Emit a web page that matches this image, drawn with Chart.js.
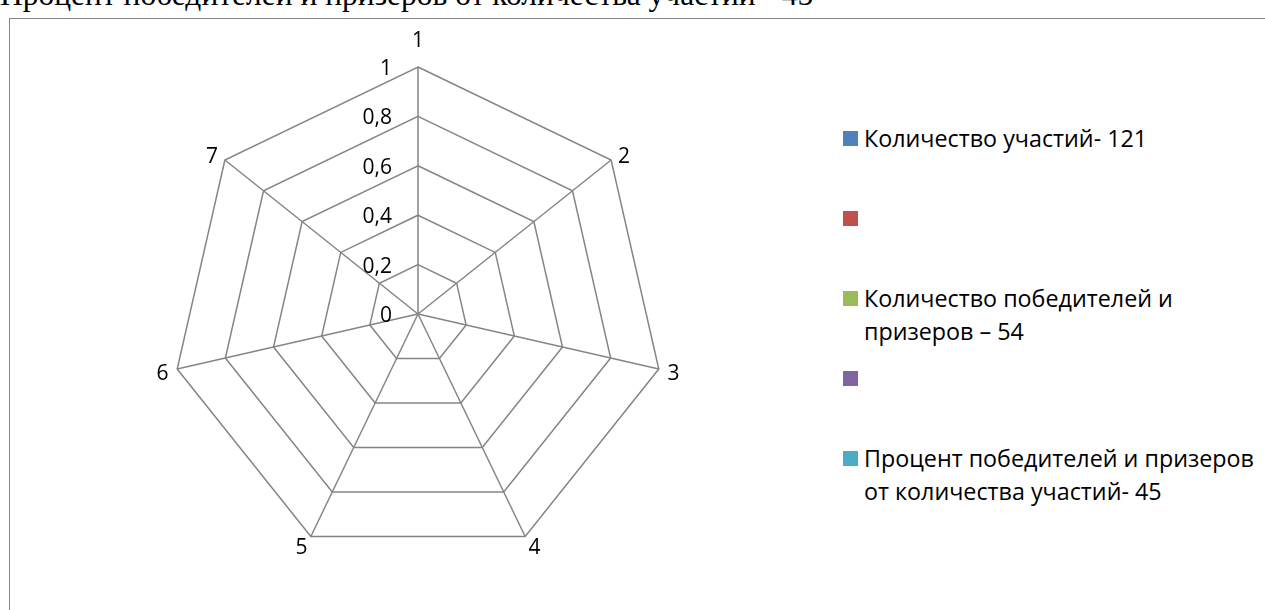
<!DOCTYPE html>
<html lang="ru">
<head>
<meta charset="utf-8">
<script src="https://cdn.jsdelivr.net/npm/chart.js@4"></script>
<style>
  body { margin: 0; width: 1265px; height: 610px; overflow: hidden; background: #fff; position: relative; font-family: "Open Sans", sans-serif; }
  #title { position: absolute; left: 0; top: -21px; font-family: "Liberation Serif", serif; font-size: 31.5px; line-height: 31px; white-space: nowrap; color: #000; }
  #frame { position: absolute; left: 9px; top: 18px; width: 1300px; height: 700px; border: 1px solid #868686; box-sizing: border-box; }
  #radar-box { position: absolute; left: 118px; top: 14px; width: 600px; height: 600px; }
  #legend { position: absolute; left: 843px; top: 0; }
  .item { position: absolute; left: 0; display: flex; align-items: flex-start; }
  .swatch { width: 15px; height: 15px; margin-top: 9px; flex: none; }
  .text { margin-left: 6px; width: 400px; font-size: 23.3px; line-height: 33px; color: #000; }
</style>
</head>
<body>
<div id="title">Процент победителей и призеров от количества участий - 45</div>
<div id="frame"></div>
<div id="radar-box"><canvas id="chart-radar"></canvas></div>
<div id="legend"></div>
<script>
// axes and series (all values empty / zero in the source chart)
const axisLabels = ["1", "2", "3", "4", "5", "6", "7"];
const seriesNames = [
  "Количество участий- 121",
  "",
  "Количество победителей и призеров – 54",
  "",
  "Процент победителей и призеров от количества участий- 45",
];
const seriesColors = ["#4f81bd", "#c0504d", "#9bbb59", "#8064a2", "#4bacc6"];
const seriesValues = [
  [0, 0, 0, 0, 0, 0, 0],
  [0, 0, 0, 0, 0, 0, 0],
  [0, 0, 0, 0, 0, 0, 0],
  [0, 0, 0, 0, 0, 0, 0],
  [0, 0, 0, 0, 0, 0, 0],
];
const scaleMin = 0;
const scaleMax = 1;
const scaleStep = 0.2;

const gridColor = "#858585";
const labelFont = '21px "Open Sans"';

// Excel-style labels: ticks right-aligned left of the vertical axis,
// category labels centred beside each spoke end
const excelLabels = {
  id: "excelLabels",
  afterDraw(chart) {
    const r = chart.scales.r;
    const ctx = chart.ctx;
    ctx.save();
    ctx.font = labelFont;
    ctx.fillStyle = "#000";
    ctx.textBaseline = "middle";

    ctx.textAlign = "right";
    r.ticks.forEach(t => {
      const y = r.yCenter - r.getDistanceFromCenterForValue(t.value);
      ctx.fillText(t.label, r.xCenter - 26, y + 2);
    });

    ctx.textAlign = "center";
    chart.data.labels.forEach((lbl, i) => {
      const p = r.getPointPosition(i, r.drawingArea);
      const dx = (p.x - r.xCenter) / r.drawingArea;
      const dy = (p.y - r.yCenter) / r.drawingArea;
      let x, y;
      if (Math.abs(dx) < 0.01) {
        x = p.x;
        y = p.y - 27;
      } else {
        x = p.x + dx * 10 + Math.sign(dx) * 5;
        y = p.y + 2 + dy * 9;
      }
      ctx.fillText(lbl, x, y + 1);
    });
    ctx.restore();
  },
};

const radar = new Chart(document.getElementById("chart-radar"), {
  type: "radar",
  data: {
    labels: axisLabels,
    datasets: seriesNames.map((name, i) => ({
      label: name,
      data: seriesValues[i],
      borderColor: seriesColors[i],
      backgroundColor: seriesColors[i],
      borderWidth: 2,
      pointRadius: 0,
      fill: false,
    })),
  },
  options: {
    responsive: true,
    maintainAspectRatio: false,
    animation: false,
    layout: { padding: 53 },
    plugins: {
      legend: { display: false },
      tooltip: { enabled: false },
    },
    scales: {
      r: {
        min: scaleMin,
        max: scaleMax,
        ticks: {
          stepSize: scaleStep,
          display: false,
          callback: v => String(Math.round(v * 10) / 10).replace(".", ","),
        },
        grid: { color: gridColor, lineWidth: 1.5 },
        angleLines: { color: gridColor, lineWidth: 1.5 },
        pointLabels: { display: false },
      },
    },
  },
  plugins: [excelLabels],
});

// HTML legend, one slot per series, evenly spaced like Excel
const legend = document.getElementById("legend");
seriesNames.forEach((name, i) => {
  const item = document.createElement("div");
  item.className = "item";
  item.style.top = (122 + i * 80) + "px";
  item.innerHTML = `<span class="swatch" style="background:${seriesColors[i]}"></span><span class="text">${name}</span>`;
  legend.appendChild(item);
});
</script>
</body>
</html>
